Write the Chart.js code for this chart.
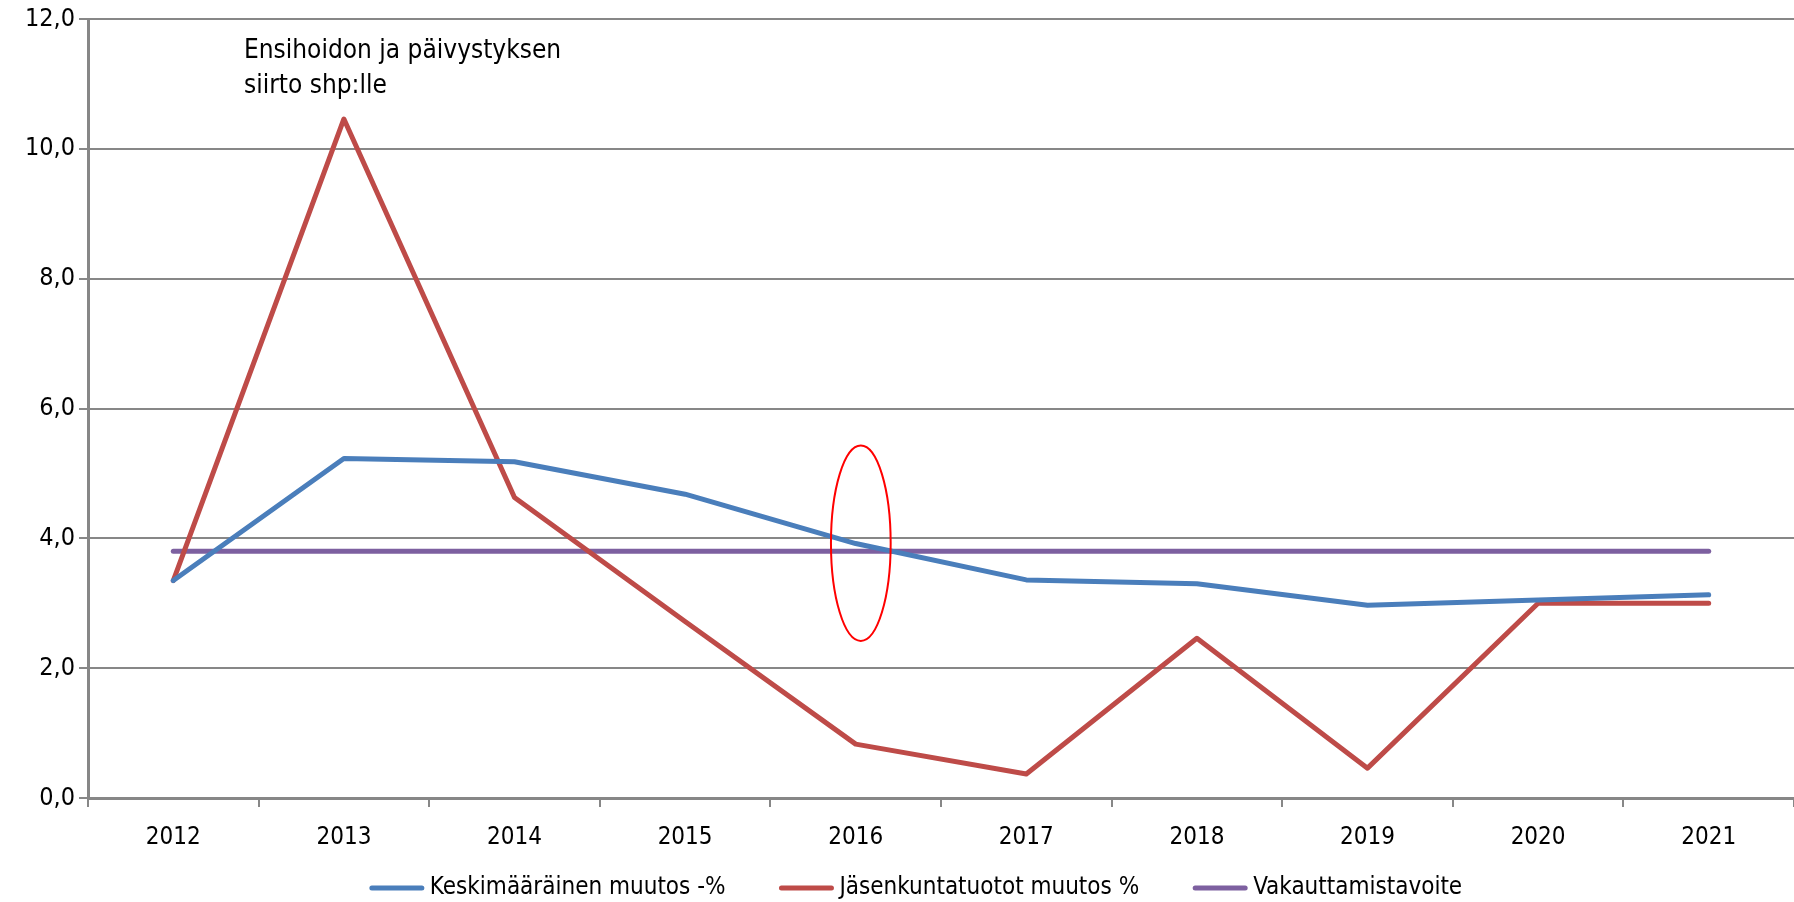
<!DOCTYPE html>
<html lang="fi">
<head>
  <meta charset="UTF-8" />
  <title>Muutos -%</title>
  <script src="https://cdn.jsdelivr.net/npm/chart.js"></script>
  <style>
    html, body {
      margin: 0;
      padding: 0;
      background: #ffffff;
    }
    #wrap {
      width: 1794px;
      height: 902px;
    }
  </style>
</head>
<body>

<div id="wrap"><canvas id="chart"></canvas></div>

<script>
  const years = ['2012', '2013', '2014', '2015', '2016', '2017', '2018', '2019', '2020', '2021'];
  const keskimaarainen = [3.35, 5.23, 5.18, 4.68, 3.92, 3.36, 3.30, 2.97, 3.05, 3.13];
  const jasenkunta = [3.35, 10.46, 4.63, 2.72, 0.83, 0.37, 2.46, 0.46, 3.0, 3.0];
  const vakauttamis = [3.8, 3.8, 3.8, 3.8, 3.8, 3.8, 3.8, 3.8, 3.8, 3.8];
  const yTicks = [0, 2, 4, 6, 8, 10, 12];
  const noteLines = ['Ensihoidon ja päivystyksen', 'siirto shp:lle'];

  const FONT = "'Liberation Sans Narrow', 'DejaVu Sans Condensed', 'Liberation Sans', sans-serif";
  const gridGray = '#878787';

  // note text + red ellipse around 2016
  const notePlugin = {
    id: 'note',
    afterDatasetsDraw(chart) {
      const { ctx, chartArea, scales } = chart;
      ctx.save();
      ctx.fillStyle = '#000';
      ctx.font = '26px ' + FONT;
      ctx.textBaseline = 'middle';
      ctx.fillText(noteLines[0], chartArea.left + 156, 51);
      ctx.fillText(noteLines[1], chartArea.left + 156, 86);

      const cx = scales.x.getPixelForValue(4.03);
      const yTop = scales.y.getPixelForValue(5.43);
      const yBot = scales.y.getPixelForValue(2.42);
      const cy = (yTop + yBot) / 2;
      const ry = (yBot - yTop) / 2;
      const rx = (scales.x.getPixelForValue(1) - scales.x.getPixelForValue(0)) * 0.175;
      ctx.strokeStyle = '#ff0000';
      ctx.lineWidth = 2;
      ctx.beginPath();
      ctx.ellipse(cx, cy, rx, ry, 0, 0, Math.PI * 2);
      ctx.stroke();
      ctx.restore();
    }
  };

  // bottom legend, drawn by hand so the gaps between items can be wide
  const legendPlugin = {
    id: 'wideLegend',
    afterDraw(chart) {
      const { ctx } = chart;
      const sets = chart.data.datasets;
      const lineLen = 54, textGap = 6, itemGap = 54;
      ctx.save();
      ctx.font = '24px ' + FONT;
      ctx.textBaseline = 'middle';
      const widths = sets.map(d => ctx.measureText(d.label).width);
      const total = widths.reduce((s, w) => s + lineLen + textGap + w, 0) + itemGap * (sets.length - 1);
      let x = chart.width / 2 + 19 - total / 2;
      const y = 888;
      sets.forEach((d, i) => {
        ctx.strokeStyle = d.borderColor;
        ctx.lineWidth = 5;
        ctx.lineCap = 'round';
        ctx.beginPath();
        ctx.moveTo(x + 2, y);
        ctx.lineTo(x + lineLen - 2, y);
        ctx.stroke();
        x += lineLen + textGap;
        ctx.fillStyle = '#000';
        ctx.fillText(d.label, x, y);
        x += widths[i] + itemGap;
      });
      ctx.restore();
    }
  };

  new Chart(document.getElementById('chart'), {
    type: 'line',
    data: {
      labels: years,
      datasets: [
        { label: 'Keskimääräinen muutos -%', data: keskimaarainen, borderColor: '#4a7ebb', backgroundColor: '#4a7ebb' },
        { label: 'Jäsenkuntatuotot muutos %', data: jasenkunta, borderColor: '#be4b48', backgroundColor: '#be4b48' },
        { label: 'Vakauttamistavoite', data: vakauttamis, borderColor: '#7d60a0', backgroundColor: '#7d60a0' }
      ]
    },
    options: {
      responsive: true,
      maintainAspectRatio: false,
      animation: false,
      layout: { padding: { top: 14, right: 0, left: 0, bottom: 42 } },
      elements: {
        line: { borderWidth: 5, tension: 0, borderCapStyle: 'round', borderJoinStyle: 'round' },
        point: { radius: 0, hoverRadius: 0 }
      },
      plugins: {
        tooltip: { enabled: false },
        legend: { display: false }
      },
      scales: {
        x: {
          offset: true,
          grid: { offset: true, drawOnChartArea: false, drawTicks: true, tickLength: 9, color: gridGray, lineWidth: 2 },
          border: { color: gridGray, width: 3 },
          ticks: { color: '#000', font: { family: FONT, size: 24 }, padding: 16, maxRotation: 0 },
          afterFit(s) { s.height = 62; }
        },
        y: {
          min: 0,
          max: 12,
          afterBuildTicks(s) { s.ticks = yTicks.map(v => ({ value: v })); },
          grid: { color: gridGray, lineWidth: 2, tickLength: 9 },
          border: { color: gridGray, width: 3 },
          ticks: {
            color: '#000',
            font: { family: FONT, size: 25 },
            padding: 4,
            callback: v => v.toFixed(1).replace('.', ',')
          },
          afterFit(s) { s.width = 88; }
        }
      }
    },
    plugins: [notePlugin, legendPlugin]
  });
</script>

</body>
</html>
